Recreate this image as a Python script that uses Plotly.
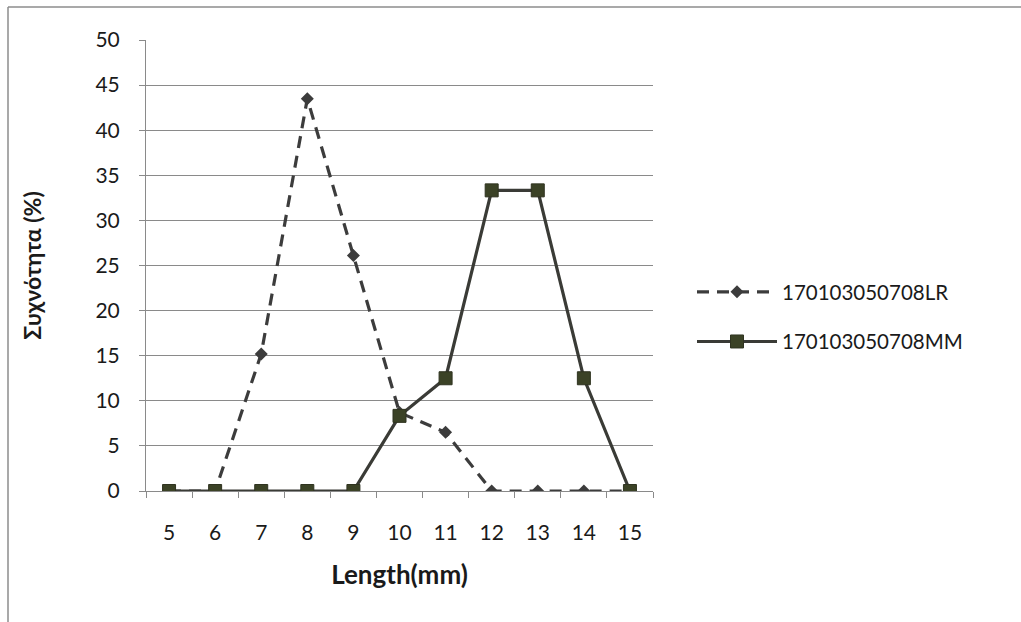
import plotly.graph_objects as go

lengths = ["5", "6", "7", "8", "9", "10", "11", "12", "13", "14", "15"]
freq_lr = [0, 0, 15.2, 43.5, 26.1, 8.7, 6.5, 0, 0, 0, 0]
freq_mm = [0, 0, 0, 0, 0, 8.33, 12.5, 33.33, 33.33, 12.5, 0]
y_ticks = [0, 5, 10, 15, 20, 25, 30, 35, 40, 45, 50]

W, H = 1021, 622
L, R, T, B = 146, 368, 40, 131
pw, ph = W - L - R, H - T - B

font_family = "Lato, 'Open Sans', sans-serif"
axis_gray = "#8a8a8a"

fig = go.Figure()
fig.add_trace(go.Scatter(
    x=lengths, y=freq_lr, name="170103050708LR", mode="lines+markers",
    legendgroup="lr",
    line=dict(color="#3c3c3c", width=3.2, dash="12px,8px"),
    marker=dict(symbol="diamond", size=10, color="#3c3c3c"),
))
fig.add_trace(go.Scatter(
    x=lengths, y=freq_mm, name="170103050708MM", mode="lines+markers",
    legendgroup="mm",
    line=dict(color="#3a3b36", width=3.2),
    marker=dict(symbol="square", size=13, color="#3b4226",
                line=dict(color="#2f3320", width=1)),
))

fig.update_layout(
    width=W, height=H,
    margin=dict(l=L, r=R, t=T, b=B),
    paper_bgcolor="white", plot_bgcolor="white",
    font=dict(family=font_family, size=21, color="#1a1a1a"),
    showlegend=True,
    legend=dict(
        x=(692 - L) / pw, y=(491 - 317) / ph, xanchor="left", yanchor="middle",
        font=dict(size=20.5), itemwidth=80, tracegroupgap=20,
        bgcolor="rgba(0,0,0,0)",
    ),
    xaxis=dict(
        type="category", categoryorder="array", categoryarray=lengths,
        range=[-0.5, 10.5], tickson="boundaries", ticks="outside",
        ticklen=6, tickcolor=axis_gray, showgrid=False,
        showline=True, linecolor=axis_gray, linewidth=1,
        tickfont=dict(size=21), ticklabelstandoff=23,
        title=dict(text="<b>Length(mm)</b>", font=dict(size=26), standoff=22),
    ),
    yaxis=dict(
        range=[0, 50], tickvals=y_ticks, ticks="outside", ticklen=6,
        tickcolor=axis_gray, showgrid=True, gridcolor=axis_gray, gridwidth=1,
        showline=True, linecolor=axis_gray, linewidth=1, zeroline=False,
        tickfont=dict(size=21), ticklabelstandoff=15,
        title=dict(text="<b>Συχνότητα (%)</b>", font=dict(size=23), standoff=47),
    ),
    shapes=[
        dict(type="line", xref="paper", yref="paper",
             x0=(8 - L) / pw, x1=(W - L) / pw,
             y0=1 + (T - 7) / ph, y1=1 + (T - 7) / ph,
             line=dict(color="#8c8c8c", width=1.5)),
        dict(type="line", xref="paper", yref="paper",
             x0=(8 - L) / pw, x1=(8 - L) / pw,
             y0=1 + (T - 7) / ph, y1=-(B) / ph,
             line=dict(color="#8c8c8c", width=1.5)),
    ],
)

fig.write_html("out.html")
